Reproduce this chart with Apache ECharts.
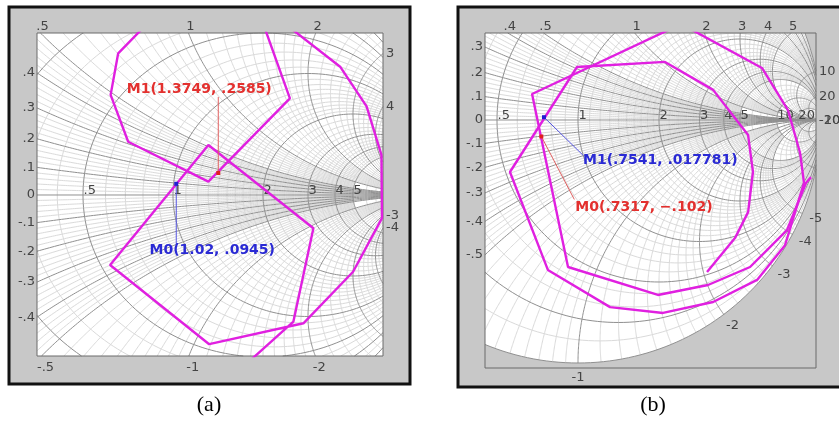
<!DOCTYPE html>
<html>
<head>
<meta charset="utf-8">
<script src="https://cdn.jsdelivr.net/npm/echarts@6/dist/echarts.min.js"></script>
<style>
html,body{margin:0;padding:0;background:#ffffff;}
#chart{width:839px;height:421px;}
</style>
</head>
<body>
<div id="chart"></div>
<script>
// ---------- DATA (reflection coefficient traces: [Re Γ, Im Γ]) ----------
const aTraceUpper = [[-0.093,0.708],[-0.203,0.583],[-0.231,0.412],[-0.166,0.219],[0.131,0.055],[0.433,0.398],[0.333,0.708]];
const aTraceLower = [[0.411,0.708],[0.619,0.528],[0.717,0.365],[0.772,0.165],[0.774,-0.095],[0.667,-0.316],[0.483,-0.528],[0.134,-0.614],[-0.233,-0.288],[0.131,0.206],[0.520,-0.137],[0.446,-0.521],[0.263,-0.704]];
const bTraceA = [[0.416,0.391],[-0.189,0.107],[-0.041,-0.605],[0.329,-0.720],[0.535,-0.679],[0.708,-0.605],[0.860,-0.453],[0.938,-0.259],[0.959,-0.235]];
const bTraceB = [[0.432,0.391],[0.757,0.214],[0.864,0.041],[0.914,-0.136],[0.930,-0.259],[0.852,-0.515],[0.737,-0.658],[0.556,-0.749],[0.350,-0.794],[0.132,-0.770],[-0.124,-0.617],[-0.280,-0.214],[-0.004,0.218],[0.358,0.239],[0.556,0.124],[0.700,-0.062],[0.720,-0.214],[0.700,-0.379],[0.646,-0.486],[0.531,-0.626]];

// markers (normalized impedance r + jx)
const aMarkerNames = ['M0', 'M1'];
const aMarkerR = [1.02, 1.3749];
const aMarkerX = [0.0945, 0.2585];
const bMarkerNames = ['M1', 'M0'];
const bMarkerR = [0.7541, 0.7317];
const bMarkerX = [0.017781, -0.102];

// tick labels
const aResistTicks = [0.5, 1, 2, 3, 4, 5];
const aTopTicks = [0.5, 1, 2];
const aBottomTicks = [-0.5, -1, -2];
const aRightOuterTicks = [3, 4];
const aRightInnerTicks = [-3, -4];
const aLeftTicks = [0.4, 0.3, 0.2, 0.1, 0, -0.1, -0.2, -0.3, -0.4];
const aRimTicks = [];
const bResistTicks = [0.5, 1, 2, 3, 4, 5, 10, 20];
const bTopTicks = [0.4, 0.5, 1, 2, 3, 4, 5];
const bBottomTicks = [];
const bRightOuterTicks = [10, 20];
const bRightInnerTicks = [-10, -20];
const bLeftTicks = [0.3, 0.2, 0.1, 0, -0.1, -0.2, -0.3, -0.4, -0.5];
const bRimTicks = [-1, -2, -3, -4, -5];

// Smith grid circles
const majorR = [0.2, 0.5, 1, 2, 3, 4, 5, 10, 20];
const majorX = [0.1, 0.2, 0.3, 0.4, 0.5, 1, 2, 3, 4, 5, 10, 20];
const minorRSteps = [[0, 1, 0.1], [1, 2, 0.1], [2, 5, 0.2], [5, 10, 1], [10, 20, 2], [20, 50, 10]];
const minorXSteps = [[0, 0.5, 0.02], [0.5, 1, 0.05], [1, 2, 0.1], [2, 5, 0.2], [5, 10, 1], [10, 20, 2], [20, 50, 10]];

// ---------- helpers ----------
const MINOR = '#dadada', MAJOR = '#909090', TICK = '#444444';
const TFONT = '13px "DejaVu Sans", sans-serif';
function stepsList(ranges, excl) {
  const out = [];
  ranges.forEach(([a, b, s]) => {
    for (let v = a + s; v < b - 1e-9; v += s) {
      const vv = +v.toFixed(4);
      if (!excl.some(e => Math.abs(e - vv) < 1e-6)) out.push(vv);
    }
  });
  return out;
}
const minorR = stepsList(minorRSteps, majorR);
const minorX = stepsList(minorXSteps, majorX);

function gamma(r, x) {
  const d = (r + 1) * (r + 1) + x * x;
  return [(r * r + x * x - 1) / d, 2 * x / d];
}
function rCircle(r) {
  const c = r / (r + 1), R = 1 / (r + 1), pts = [];
  for (let k = 0; k <= 240; k++) { const t = k / 240 * 2 * Math.PI; pts.push([c + R * Math.cos(t), R * Math.sin(t)]); }
  return pts;
}
// reactance arc from r = 0 up to r = rMax
function xArc(x, rMax) {
  const uMax = rMax === Infinity ? 1 : rMax / (rMax + 1), pts = [];
  const N = 200;
  for (let k = 0; k <= N; k++) {
    const u = uMax * k / N;
    if (u >= 1) { pts.push([1, 0]); continue; }
    pts.push(gamma(u / (1 - u), x));
  }
  return pts;
}
function xLimit(ax, major) {
  if (major) return Infinity;
  if (ax < 1) return 5;
  if (ax <= 5) return 10;
  return Infinity;
}
function clipSeg(ax, ay, bx, by, B) {
  let t0 = 0, t1 = 1; const dx = bx - ax, dy = by - ay;
  const p = [-dx, dx, -dy, dy], q = [ax - B.x0, B.x1 - ax, ay - B.y0, B.y1 - ay];
  for (let i = 0; i < 4; i++) {
    if (p[i] === 0) { if (q[i] < 0) return null; }
    else {
      const t = q[i] / p[i];
      if (p[i] < 0) { if (t > t1) return null; if (t > t0) t0 = t; }
      else { if (t < t0) return null; if (t < t1) t1 = t; }
    }
  }
  return [[ax + t0 * dx, ay + t0 * dy], [ax + t1 * dx, ay + t1 * dy], t0 > 0, t1 < 1];
}
function clipPolyline(pts, B) {
  const runs = []; let cur = null;
  for (let i = 0; i < pts.length - 1; i++) {
    const c = clipSeg(pts[i][0], pts[i][1], pts[i + 1][0], pts[i + 1][1], B);
    if (!c) { if (cur) { runs.push(cur); cur = null; } continue; }
    if (!cur || c[2]) { if (cur) runs.push(cur); cur = [c[0]]; }
    cur.push(c[1]);
    if (c[3]) { runs.push(cur); cur = null; }
  }
  if (cur) runs.push(cur);
  return runs;
}
function clipPolygon(pts, B) {
  const edges = [
    [p => p[0] >= B.x0, (a, b) => { const t = (B.x0 - a[0]) / (b[0] - a[0]); return [B.x0, a[1] + t * (b[1] - a[1])]; }],
    [p => p[0] <= B.x1, (a, b) => { const t = (B.x1 - a[0]) / (b[0] - a[0]); return [B.x1, a[1] + t * (b[1] - a[1])]; }],
    [p => p[1] >= B.y0, (a, b) => { const t = (B.y0 - a[1]) / (b[1] - a[1]); return [a[0] + t * (b[0] - a[0]), B.y0]; }],
    [p => p[1] <= B.y1, (a, b) => { const t = (B.y1 - a[1]) / (b[1] - a[1]); return [a[0] + t * (b[0] - a[0]), B.y1]; }]
  ];
  let out = pts;
  edges.forEach(([inside, inter]) => {
    const inp = out; out = [];
    for (let i = 0; i < inp.length; i++) {
      const cur = inp[i], prev = inp[(i + inp.length - 1) % inp.length];
      if (inside(cur)) { if (!inside(prev)) out.push(inter(prev, cur)); out.push(cur); }
      else if (inside(prev)) out.push(inter(prev, cur));
    }
  });
  return out;
}
function fmtTick(v) {
  let s = String(Math.abs(v)); if (s.startsWith('0.')) s = s.slice(1);
  return (v < 0 ? '-' : '') + s;
}
function fmtVal(v) {
  let s = String(Math.abs(v)); if (s.startsWith('0.')) s = s.slice(1);
  return (v < 0 ? '\u2212' : '') + s;
}
function txt(x, y, s, align, font, fill) {
  return { type: 'text', x: x, y: y, style: { text: s, font: font || TFONT, fill: fill || TICK,
    align: align, verticalAlign: 'middle', textAlign: align, textVerticalAlign: 'middle' } };
}

// ---------- panels ----------
const panels = [
  { grid: { left: 37, top: 33, width: 346, height: 323 }, xr: [-0.5037, 0.7778], yr: [-0.6626, 0.6667], outside: '#ffffff',
    resist: aResistTicks, top: aTopTicks, bottom: aBottomTicks, rOut: aRightOuterTicks, rIn: aRightInnerTicks, left: aLeftTicks, rim: aRimTicks },
  { grid: { left: 485, top: 33, width: 331, height: 335 }, xr: [-0.3827, 0.9794], yr: [-1.0206, 0.358], outside: '#c8c8c8',
    resist: bResistTicks, top: bTopTicks, bottom: bBottomTicks, rOut: bRightOuterTicks, rIn: bRightInnerTicks, left: bLeftTicks, rim: bRimTicks }
];

function smithSeries(pi) {
  const cfg = panels[pi];
  return {
    type: 'custom', xAxisIndex: pi, yAxisIndex: pi, z: 1, silent: true, animation: false,
    data: [[0, 0]],
    renderItem: function (params, api) {
      const cs = params.coordSys;
      const B = { x0: cs.x, y0: cs.y, x1: cs.x + cs.width, y1: cs.y + cs.height };
      const P = (re, im) => api.coord([re, im]);
      const kids = [];
      kids.push({ type: 'rect', shape: { x: cs.x, y: cs.y, width: cs.width, height: cs.height }, style: { fill: cfg.outside } });
      const disk = [];
      for (let k = 0; k < 360; k++) { const t = k / 360 * 2 * Math.PI; disk.push(P(Math.cos(t), Math.sin(t))); }
      const dc = clipPolygon(disk, B);
      if (dc.length > 2) kids.push({ type: 'polygon', shape: { points: dc }, style: { fill: '#ffffff' } });
      const addCurve = (g, color, w) => {
        const px = g.map(q => P(q[0], q[1]));
        clipPolyline(px, B).forEach(run => {
          if (run.length > 1) kids.push({ type: 'polyline', shape: { points: run }, style: { stroke: color, lineWidth: w, fill: null } });
        });
      };
      minorR.forEach(r => addCurve(rCircle(r), MINOR, 1));
      minorX.forEach(x => { const L = xLimit(x, false); addCurve(xArc(x, L), MINOR, 1); addCurve(xArc(-x, L), MINOR, 1); });
      majorR.forEach(r => addCurve(rCircle(r), MAJOR, 1));
      majorX.forEach(x => { addCurve(xArc(x, Infinity), MAJOR, 1); addCurve(xArc(-x, Infinity), MAJOR, 1); });
      addCurve([[-1, 0], [1, 0]], MAJOR, 1);
      addCurve(rCircle(0), MAJOR, 1);
      kids.push({ type: 'rect', shape: { x: cs.x, y: cs.y, width: cs.width, height: cs.height }, style: { fill: null, stroke: '#6a6a6a', lineWidth: 1 } });

      const xMin = cfg.xr[0], xMax = cfg.xr[1], yMin = cfg.yr[0], yMax = cfg.yr[1];
      cfg.resist.forEach(r => { const p = P((r - 1) / (r + 1), 0); kids.push(txt(p[0] + 0.5, p[1] - 4, fmtTick(r), 'left')); });
      const hCross = (x, y0) => { const cy = 1 / x, R = 1 / Math.abs(x); const d = R * R - (y0 - cy) * (y0 - cy); return 1 - Math.sqrt(Math.max(d, 0)); };
      cfg.top.forEach(x => { const p = P(hCross(x, yMax), yMax); kids.push(txt(p[0] + 2, cs.y - 6, fmtTick(x), 'center')); });
      cfg.bottom.forEach(x => { const p = P(hCross(x, yMin), yMin); kids.push(txt(p[0] + 4, cs.y + cs.height + 12, fmtTick(x), 'center')); });
      const vCross = (x, x0, outer) => {
        if (x === 0) return 0;
        const cy = 1 / x, R = 1 / Math.abs(x); const s = Math.sqrt(Math.max(R * R - (x0 - 1) * (x0 - 1), 0));
        const sg = x > 0 ? 1 : -1; return outer ? cy + sg * s : cy - sg * s;
      };
      cfg.rOut.forEach(x => { const p = P(xMax, vCross(x, xMax, true)); kids.push(txt(cs.x + cs.width + 3, p[1], fmtTick(x), 'left')); });
      cfg.rIn.forEach(x => { const p = P(xMax, vCross(x, xMax, false)); kids.push(txt(cs.x + cs.width + 3, p[1], fmtTick(x), 'left')); });
      cfg.left.forEach(x => { const p = P(xMin, vCross(x, xMin, false)); kids.push(txt(cs.x - 2, p[1], fmtTick(x), 'right')); });
      cfg.rim.forEach(x => { const g = gamma(0, x); const p = P(g[0] * 1.06, g[1] * 1.06); kids.push(txt(p[0], p[1], fmtTick(x), 'center')); });
      return { type: 'group', children: kids };
    }
  };
}

function traceSeries(pi, data) {
  return { type: 'line', xAxisIndex: pi, yAxisIndex: pi, data: data, showSymbol: false, symbol: 'none', z: 4,
    clip: true, silent: true, animation: false, lineStyle: { color: '#e020e0', width: 2.4 } };
}

const RED = { text: '#e3302e', line: '#e06060', mark: '#e02020' };
const BLUE = { text: '#2a2ad4', line: '#5555e0', mark: '#2020d0' };
function markerSeries(pi, names, rs, xs, colors, offs) {
  const data = names.map((n, i) => { const g = gamma(rs[i], xs[i]); return [g[0], g[1], i]; });
  return {
    type: 'custom', xAxisIndex: pi, yAxisIndex: pi, z: 6, silent: true, animation: false, data: data,
    renderItem: function (params, api) {
      const i = api.value(2), p = api.coord([api.value(0), api.value(1)]), o = offs[i], col = colors[i];
      const s = names[i] + '(' + fmtVal(rs[i]) + ', ' + fmtVal(xs[i]) + ')';
      return { type: 'group', children: [
        { type: 'line', shape: { x1: p[0], y1: p[1], x2: p[0] + o.lead[0], y2: p[1] + o.lead[1] }, style: { stroke: col.line, lineWidth: 1 } },
        { type: 'rect', shape: { x: p[0] - 2, y: p[1] - 2, width: 4, height: 4 }, style: { fill: col.mark } },
        txt(p[0] + o.text[0], p[1] + o.text[1], s, o.align, 'bold 14px "DejaVu Sans", sans-serif', col.text)
      ] };
    }
  };
}

const chart = echarts.init(document.getElementById('chart'), null, { renderer: 'canvas' });
const option = {
  animation: false,
  backgroundColor: '#ffffff',
  graphic: [
    { type: 'rect', z: 0, silent: true, shape: { x: 9, y: 7, width: 401, height: 377 }, style: { fill: '#c8c8c8', stroke: '#111111', lineWidth: 3 } },
    { type: 'rect', z: 0, silent: true, shape: { x: 458, y: 7, width: 390, height: 380 }, style: { fill: '#c8c8c8', stroke: '#111111', lineWidth: 3 } },
    { type: 'text', z: 0, silent: true, x: 209, y: 405, style: { text: '(a)', font: '22px "Liberation Serif", serif', fill: '#000', align: 'center', verticalAlign: 'middle', textAlign: 'center', textVerticalAlign: 'middle' } },
    { type: 'text', z: 0, silent: true, x: 653, y: 405, style: { text: '(b)', font: '22px "Liberation Serif", serif', fill: '#000', align: 'center', verticalAlign: 'middle', textAlign: 'center', textVerticalAlign: 'middle' } }
  ],
  grid: panels.map(p => Object.assign({ containLabel: false, show: false }, p.grid)),
  xAxis: panels.map((p, i) => ({ type: 'value', gridIndex: i, min: p.xr[0], max: p.xr[1], show: false })),
  yAxis: panels.map((p, i) => ({ type: 'value', gridIndex: i, min: p.yr[0], max: p.yr[1], show: false })),
  series: [
    smithSeries(0), smithSeries(1),
    traceSeries(0, aTraceUpper), traceSeries(0, aTraceLower),
    traceSeries(1, bTraceA), traceSeries(1, bTraceB),
    markerSeries(0, aMarkerNames, aMarkerR, aMarkerX, [BLUE, RED],
      [{ lead: [0, 61], text: [36, 67], align: 'center' }, { lead: [0, -76], text: [-19, -84], align: 'center' }]),
    markerSeries(1, bMarkerNames, bMarkerR, bMarkerX, [BLUE, RED],
      [{ lead: [39, 38], text: [39, 43], align: 'left' }, { lead: [33, 63], text: [34, 71], align: 'left' }])
  ]
};
chart.setOption(option);
</script>
</body>
</html>
